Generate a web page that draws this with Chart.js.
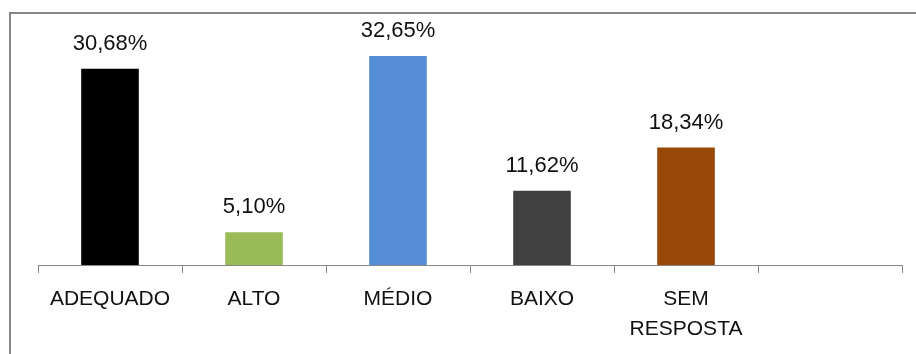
<!DOCTYPE html>
<html>
<head>
<meta charset="utf-8">
<script src="https://cdn.jsdelivr.net/npm/chart.js@4/dist/chart.umd.min.js"></script>
<style>
  html, body { margin: 0; padding: 0; background: #fff; }
  #wrap { position: relative; width: 916px; height: 354px; overflow: hidden; }
  #frame { position: absolute; left: 9px; top: 12px; width: 940px; height: 400px; border: 2px solid #878787; box-sizing: border-box; }
  canvas { position: absolute; left: 0; top: 0; }
</style>
</head>
<body>
<div id="wrap">
  <div id="frame"></div>
  <canvas id="c" width="916" height="354"></canvas>
</div>
<script>
const categories = ['ADEQUADO', 'ALTO', 'MÉDIO', 'BAIXO', ['SEM', 'RESPOSTA'], ''];
const values = [30.68, 5.10, 32.65, 11.62, 18.34, null];
const barColors = ['#000000', '#9BBB59', '#558ED5', '#404040', '#984807', '#ffffff'];

const FONT = "'Liberation Sans', Arial, sans-serif";

const valueLabels = {
  id: 'valueLabels',
  afterDatasetsDraw(chart) {
    const ctx = chart.ctx;
    const meta = chart.getDatasetMeta(0);
    ctx.save();
    ctx.font = "22px " + FONT;
    ctx.fillStyle = '#111';
    ctx.textAlign = 'center';
    ctx.textBaseline = 'alphabetic';
    meta.data.forEach((bar, i) => {
      const v = chart.data.datasets[0].data[i];
      if (v === null || v === undefined) return;
      const txt = v.toFixed(2).replace('.', ',') + '%';
      ctx.fillText(txt, bar.x, bar.y - 19);
    });
    ctx.restore();
  }
};

new Chart(document.getElementById('c'), {
  type: 'bar',
  data: {
    labels: categories,
    datasets: [{
      data: values,
      backgroundColor: barColors,
      borderWidth: 0,
      categoryPercentage: 1,
      barPercentage: 0.4
    }]
  },
  options: {
    responsive: false,
    animation: false,
    devicePixelRatio: 1,
    layout: { padding: { left: 38, right: 14, top: 41, bottom: 0 } },
    plugins: { legend: { display: false }, tooltip: { enabled: false } },
    scales: {
      y: { display: false, min: 0, max: 35 },
      x: {
        afterFit: s => { s.height = 89; },
        grid: { display: true, drawOnChartArea: false, drawTicks: true, tickLength: 8, color: '#878787', lineWidth: 1, offset: true },
        border: { display: true, color: '#878787', width: 1 },
        ticks: { color: '#111', padding: 11, font: { family: FONT, size: 21, lineHeight: 1.43 }, maxRotation: 0, autoSkip: false }
      }
    }
  },
  plugins: [valueLabels]
});
</script>
</body>
</html>
